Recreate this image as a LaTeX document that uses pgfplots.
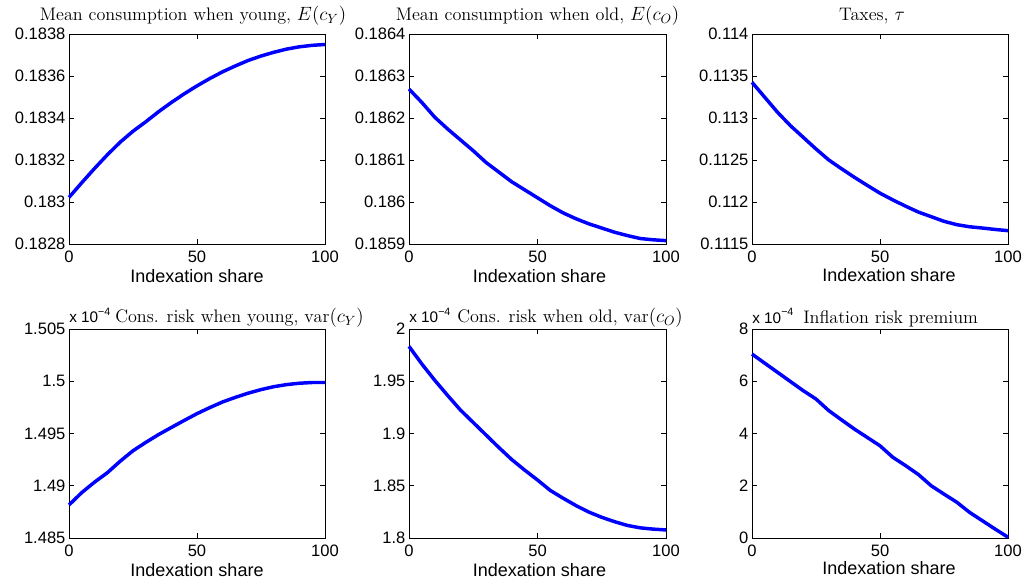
\documentclass[border=0pt]{standalone}
\usepackage{fontspec}
\usepackage{pgfplots}
\pgfplotsset{compat=1.18}
\newfontfamily\arial{Liberation Sans}

\pgfplotsset{
  mat/.style={
    scale only axis,
    xmin=0, xmax=100,
    xtick={0,50,100},
    xtick pos=both, ytick pos=both,
    tick align=inside,
    major tick length=3.75pt,
    axis line style={line width=0.6pt},
    every tick/.style={line width=0.6pt,black},
    ticklabel style={font=\arial\fontsize{12.4}{14}\selectfont},
    /pgf/number format/assume math mode=true,
    xticklabel style={inner sep=1pt, yshift=-3.75pt},
    yticklabel style={inner sep=1pt, xshift=-1.5pt},
    scaled ticks=false,
    clip=false,
  },
  curve/.style={color={rgb,255:red,0;green,0;blue,255}, line width=2.6pt, line join=round},
}
\newcommand{\xlab}{\arial\fontsize{13.5}{15}\selectfont Indexation share}
\newcommand{\ttl}{\fontsize{13.6}{15}\selectfont}
\newcommand{\ttlb}{\fontsize{13.6}{15}\selectfont}
\newcommand{\expo}{{\arial\fontsize{11.5}{12}\selectfont x 10\raisebox{5.5pt}{\fontsize{8}{8}\selectfont −4}}}

\begin{document}
\begin{tikzpicture}
\useasboundingbox (0,0) rectangle (771pt,438.75pt);

% top row
\begin{axis}[mat, at={(51.75pt,255.75pt)}, width=192pt, height=157.5pt,
  ymin=0.1828, ymax=0.1838,
  ytick={0.1828,0.183,0.1832,0.1834,0.1836,0.1838},
  yticklabels={0.1828,0.183,0.1832,0.1834,0.1836,0.1838}]
\addplot[curve] coordinates {(0,0.183022)(5,0.183092)(10,0.183160)(15,0.183225)(20,0.183285)(25,0.183337)(30,0.183382)(35,0.183430)(40,0.183474)(45,0.183515)(50,0.183553)(55,0.183588)(60,0.183620)(65,0.183648)(70,0.183674)(75,0.183695)(80,0.183713)(85,0.183728)(90,0.183739)(95,0.183746)(100,0.183750)};
\node[anchor=base] at (rel axis cs:0.5,1) [yshift=9.75pt,xshift=-3pt] {\ttl Mean consumption when young, $E(c_Y)$};
\node[anchor=base] at (rel axis cs:0.5,0) [yshift=-29.25pt] {\xlab};
\end{axis}

\begin{axis}[mat, at={(306.75pt,255.75pt)}, width=192.75pt, height=157.5pt,
  ymin=0.1859, ymax=0.1864,
  ytick={0.1859,0.186,0.1861,0.1862,0.1863,0.1864},
  yticklabels={0.1859,0.186,0.1861,0.1862,0.1863,0.1864}]
\addplot[curve] coordinates {(0,0.186269)(5,0.186237)(10,0.186202)(15,0.186174)(20,0.186148)(25,0.186122)(30,0.186094)(35,0.186071)(40,0.186048)(45,0.186029)(50,0.186010)(55,0.185991)(60,0.185974)(65,0.185960)(70,0.185948)(75,0.185938)(80,0.185928)(85,0.185920)(90,0.185913)(95,0.185910)(100,0.185908)};
\node[anchor=base] at (rel axis cs:0.5,1) [yshift=9.75pt] {\ttl Mean consumption when old, $E(c_O)$};
\node[anchor=base] at (rel axis cs:0.5,0) [yshift=-29.25pt,xshift=1.5pt] {\xlab};
\end{axis}

\begin{axis}[mat, at={(564pt,255.75pt)}, width=192pt, height=157.5pt,
  ymin=0.1115, ymax=0.114,
  ytick={0.1115,0.112,0.1125,0.113,0.1135,0.114},
  yticklabels={0.1115,0.112,0.1125,0.113,0.1135,0.114}]
\addplot[curve] coordinates {(0,0.113425)(5,0.113246)(10,0.113067)(15,0.112909)(20,0.112770)(25,0.112631)(30,0.112500)(35,0.112395)(40,0.112294)(45,0.112198)(50,0.112105)(55,0.112025)(60,0.111950)(65,0.111880)(70,0.111825)(75,0.111770)(80,0.111730)(85,0.111705)(90,0.111690)(95,0.111673)(100,0.111659)};
\node[anchor=base] at (rel axis cs:0.5,1) [yshift=9.75pt,xshift=-6pt] {\ttl Taxes, $\tau$};
\node[anchor=base] at (rel axis cs:0.5,0) [yshift=-28.5pt,xshift=6.75pt] {\xlab};
\end{axis}

% bottom row
\begin{axis}[mat, at={(51.75pt,35.25pt)}, width=192pt, height=156.75pt,
  ymin=1.485, ymax=1.505,
  ytick={1.485,1.49,1.495,1.5,1.505},
  yticklabels={1.485,1.49,1.495,1.5,1.505}]
\addplot[curve] coordinates {(0,1.48816)(5,1.48935)(10,1.49035)(15,1.49125)(20,1.49235)(25,1.49335)(30,1.49415)(35,1.49490)(40,1.49558)(45,1.49625)(50,1.49690)(55,1.49748)(60,1.49802)(65,1.49846)(70,1.49886)(75,1.49920)(80,1.49948)(85,1.49968)(90,1.49981)(95,1.49988)(100,1.49988)};
\node[anchor=base west,inner sep=0pt] at (rel axis cs:0,1) [yshift=4.5pt] {\expo};
\node[anchor=base west,inner sep=0pt] at (rel axis cs:0,1) [yshift=4.5pt,xshift=34.5pt] {\ttlb Cons. risk when young, $\mathrm{var}(c_Y)$};
\node[anchor=base] at (rel axis cs:0.5,0) [yshift=-29.25pt] {\xlab};
\end{axis}

\begin{axis}[mat, at={(306.75pt,35.25pt)}, width=192.75pt, height=156.75pt,
  ymin=1.8, ymax=2,
  ytick={1.8,1.85,1.9,1.95,2},
  yticklabels={1.8,1.85,1.9,1.95,2}]
\addplot[curve] coordinates {(0,1.9834)(5,1.9665)(10,1.9510)(15,1.9365)(20,1.9225)(25,1.9105)(30,1.8985)(35,1.8865)(40,1.8750)(45,1.8650)(50,1.8555)(55,1.8455)(60,1.8380)(65,1.8310)(70,1.8248)(75,1.8198)(80,1.8156)(85,1.8120)(90,1.8097)(95,1.8085)(100,1.8077)};
\node[anchor=base west,inner sep=0pt] at (rel axis cs:0,1) [yshift=4.5pt] {\expo};
\node[anchor=base west,inner sep=0pt] at (rel axis cs:0,1) [yshift=4.5pt,xshift=36pt] {\ttlb Cons. risk when old, $\mathrm{var}(c_O)$};
\node[anchor=base] at (rel axis cs:0.5,0) [yshift=-29.25pt,xshift=1.5pt] {\xlab};
\end{axis}

\begin{axis}[mat, at={(564pt,35.25pt)}, width=192pt, height=156.75pt,
  ymin=0, ymax=8,
  ytick={0,2,4,6,8},
  yticklabels={0,2,4,6,8}]
\addplot[curve] coordinates {(0,7.04)(5,6.69)(10,6.34)(15,5.99)(20,5.64)(25,5.32)(30,4.875)(35,4.52)(40,4.17)(45,3.85)(50,3.53)(55,3.09)(60,2.77)(65,2.43)(70,2.00)(75,1.68)(80,1.37)(85,0.98)(90,0.66)(95,0.34)(100,0.03)};
\node[anchor=base west,inner sep=0pt] at (rel axis cs:0,1) [yshift=4.5pt] {\expo};
\node[anchor=base west,inner sep=0pt] at (rel axis cs:0,1) [yshift=4.5pt,xshift=38.25pt] {\ttlb Inflation risk premium};
\node[anchor=base] at (rel axis cs:0.5,0) [yshift=-27.75pt,xshift=6.75pt] {\xlab};
\end{axis}
\end{tikzpicture}
\end{document}
